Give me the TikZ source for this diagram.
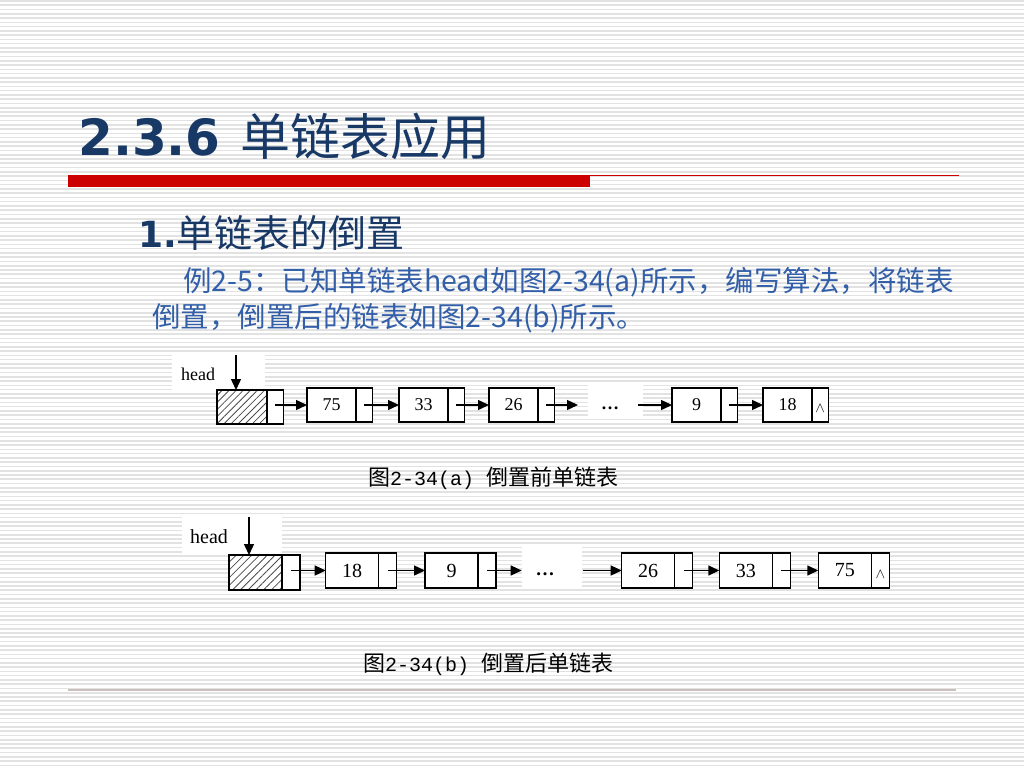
\documentclass[tikz,border=0pt]{standalone}
\usepackage{fontspec}
\setmainfont{Liberation Serif}
\newfontfamily\cjk{Noto Sans CJK SC}
\newfontfamily\vb{DejaVu Sans}
\newfontfamily\lmono{Liberation Mono}
\usetikzlibrary{arrows.meta,patterns.meta,positioning}
\definecolor{navy}{RGB}{24,56,102}
\definecolor{bodyblue}{RGB}{50,95,168}
\definecolor{barred}{RGB}{204,0,0}
\definecolor{stripe}{RGB}{226,226,226}
\definecolor{rulecol}{RGB}{205,190,190}
\newcommand{\fsz}[1]{\fontsize{#1pt}{#1pt}\selectfont}
\newcommand{\lat}[1]{{\lmono\fsz{20}#1}}
\tikzset{
  whitebox/.style={fill=white, draw=none, inner sep=0pt, outer sep=0pt},
  cellA/.style={draw, line width=1.2pt, fill=white, minimum height=34pt, inner sep=0pt, outer sep=0pt, font=\fsz{18}},
  dcellA/.style={cellA, minimum width=49pt},
  pcellA/.style={cellA, minimum width=16.5pt},
  hcellA/.style={cellA, minimum width=50pt, preaction={fill=white}, pattern={Lines[angle=45,distance=5pt,line width=0.8pt]}, pattern color=black!70},
  cellB/.style={draw, line width=1.2pt, fill=white, minimum height=35pt, inner sep=0pt, outer sep=0pt, font=\fsz{20}},
  dcellB/.style={cellB, minimum width=53pt},
  pcellB/.style={cellB, minimum width=18pt},
  hcellB/.style={cellB, minimum width=53pt, preaction={fill=white}, pattern={Lines[angle=45,distance=5.5pt,line width=0.8pt]}, pattern color=black!70},
  link/.style={line width=1.4pt, -{Triangle[length=11pt,width=10pt]}},
  nullmark/.style={inner sep=0pt, font=\fsz{15}},
  lbl/.style={anchor=base west, inner sep=0pt},
}
\begin{document}
\begin{tikzpicture}[x=1pt,y=-1pt]
\useasboundingbox (0,0) rectangle (1024,768);
\fill[white] (0,0) rectangle (1024,768);
% background stripes
\foreach \i in {0,...,180} {
  \draw[stripe, line width=1.6pt] (0,\i*4.27+1) -- (1024,\i*4.27+1);
}
% title
\node[lbl, text=navy] (title) at (78,155) {{\vb\bfseries\fsz{50}2.3.6}\hspace{20pt}{\cjk\fsz{50}单链表应用}};
\fill[barred] (68,175) rectangle (590,187);
\draw[barred, line width=1.5pt] (590,175.7) -- (959,175.7);
% subtitle
\node[lbl, text=navy] (sub) at (138,247) {{\vb\bfseries\fsz{36}1.}{\cjk\fsz{38}单链表的倒置}};
% body
\node[lbl, text=bodyblue, font=\cjk\fsz{28.5}] (body1) at (183,291) {例2-5：已知单链表head如图2-34(a)所示，编写算法，将链表};
\node[lbl, text=bodyblue, font=\cjk\fsz{28.5}] (body2) at (152,327) {倒置，倒置后的链表如图2-34(b)所示。};

% ---------- figure (a) ----------
\node[whitebox, minimum width=93pt, minimum height=41pt] (hwa) at (218.5,372.5) {};
\node[lbl, font=\fsz{18}] (headA) at (181,380) {head};
\node[whitebox, minimum width=55pt, minimum height=34pt] (dwa) at (615.5,400) {};
\node[hcellA] (ha) at (242,407) {};
\node[pcellA, right=0pt of ha] (hap) {};
\node[dcellA] (a1) at (331.5,405) {75};
\node[pcellA, right=0pt of a1] (a1p) {};
\node[dcellA] (a2) at (423.5,405) {33};
\node[pcellA, right=0pt of a2] (a2p) {};
\node[dcellA] (a3) at (513.5,405) {26};
\node[pcellA, right=0pt of a3] (a3p) {};
\node[dcellA] (a4) at (696.5,405) {9};
\node[pcellA, right=0pt of a4] (a4p) {};
\node[dcellA] (a5) at (787.5,405) {18};
\node[pcellA, right=0pt of a5] (a5p) {};
\node[nullmark, yshift=-3pt] (nullA) at (a5p.center) {$\wedge$};
\node[anchor=base, inner sep=0pt, font=\bfseries\fsz{18}] (ellA) at (610,409) {…};
\coordinate (hAtop) at (236,355);
\coordinate (aE1) at (578,405);
\coordinate (aS2) at (638,405);
\draw[link] (hAtop) -- (hAtop |- ha.north);
\draw[link] (hap.center |- a1.west) -- (a1.west);
\draw[link] (a1p.center) -- (a2.west);
\draw[link] (a2p.center) -- (a3.west);
\draw[link] (a3p.center) -- (aE1);
\draw[link] (aS2) -- (a4.west);
\draw[link] (a4p.center) -- (a5.west);
\node[lbl, font=\cjk\fsz{22}] (capA) at (368,485) {图\lat{2-34(a) }倒置前单链表};

% ---------- figure (b) ----------
\node[whitebox, minimum width=100pt, minimum height=40pt] (hwb) at (232,535) {};
\node[lbl, font=\fsz{20}] (headB) at (190,543) {head};
\node[whitebox, minimum width=60pt, minimum height=42pt] (dwb) at (552,566) {};
\node[hcellB] (hb) at (255.5,572.5) {};
\node[pcellB, right=0pt of hb] (hbp) {};
\node[dcellB] (b1) at (352.2,570.5) {18};
\node[pcellB, right=0pt of b1] (b1p) {};
\node[dcellB] (b2) at (451.5,570.5) {9};
\node[pcellB, right=0pt of b2] (b2p) {};
\node[dcellB] (b3) at (648.2,570.5) {26};
\node[pcellB, right=0pt of b3] (b3p) {};
\node[dcellB] (b4) at (745.8,570.5) {33};
\node[pcellB, right=0pt of b4] (b4p) {};
\node[dcellB] (b5) at (844.8,570.5) {75};
\node[pcellB, right=0pt of b5] (b5p) {};
\node[nullmark, yshift=-4pt] (nullB) at (b5p.center) {$\wedge$};
\node[anchor=base, inner sep=0pt, font=\bfseries\fsz{19}] (ellB) at (545,575) {…};
\coordinate (hBtop) at (249,517);
\coordinate (bE1) at (521.7,570.5);
\coordinate (bS2) at (582.7,570.5);
\draw[link] (hBtop) -- (hBtop |- hb.north);
\draw[link] (hbp.center |- b1.west) -- (b1.west);
\draw[link] (b1p.center) -- (b2.west);
\draw[link] (b2p.center) -- (bE1);
\draw[link] (bS2) -- (b3.west);
\draw[link] (b3p.center) -- (b4.west);
\draw[link] (b4p.center) -- (b5.west);
\node[lbl, font=\cjk\fsz{22}] (capB) at (363,671) {图\lat{2-34(b) }倒置后单链表};

% bottom rule
\draw[rulecol, line width=1.3pt] (68,690) -- (956,690);
\end{tikzpicture}
\end{document}
